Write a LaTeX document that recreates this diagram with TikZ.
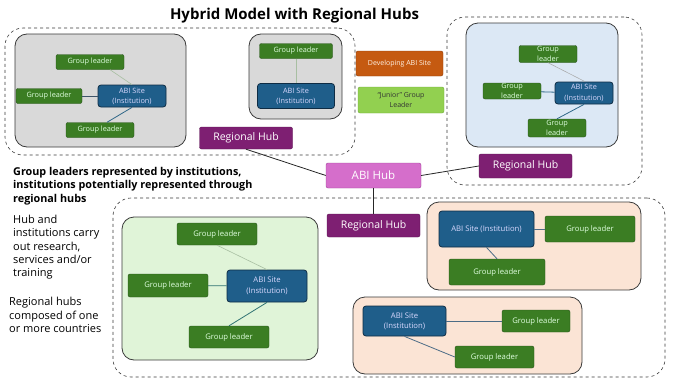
\documentclass[tikz,border=0pt]{standalone}
\usepackage{fontspec}
\setmainfont{Open Sans}
\usepackage{tikz}
\usetikzlibrary{positioning}

\definecolor{glfill}{HTML}{3B7D23}
\definecolor{gldraw}{HTML}{27521A}
\definecolor{abifill}{HTML}{1F5E8A}
\definecolor{abidraw}{HTML}{0E2C44}
\definecolor{rhfill}{HTML}{7E1F72}
\definecolor{rhdraw}{HTML}{5B1452}
\definecolor{hubfill}{HTML}{D56ECB}
\definecolor{hubdraw}{HTML}{A0449A}
\definecolor{devfill}{HTML}{C55A11}
\definecolor{devdraw}{HTML}{8E3E0A}
\definecolor{junfill}{HTML}{92D050}
\definecolor{jundraw}{HTML}{6DAA36}
\definecolor{grayfill}{HTML}{D9D9D9}
\definecolor{bluefill}{HTML}{DCE8F5}
\definecolor{greenfill}{HTML}{E0F4D8}
\definecolor{peachfill}{HTML}{FBE4D5}
\definecolor{boxdraw}{HTML}{3A3A3A}
\definecolor{lightlink}{HTML}{A8BFA2}
\definecolor{darklink}{HTML}{2F6788}
\definecolor{slatelink}{HTML}{3E5468}
\definecolor{peachlink}{HTML}{4C6C86}
\definecolor{teallink}{HTML}{2F7272}

\begin{document}
\begin{tikzpicture}[x=1pt, y=-1pt,
  dbox/.style={draw=boxdraw, dashed, line width=0.6pt, rounded corners=18pt, inner sep=0pt},
  grp/.style={draw=boxdraw, line width=0.8pt, rounded corners=12pt, inner sep=0pt},
  gl/.style={draw=gldraw, fill=glfill, text=white!88!green, rounded corners=2pt, inner sep=0pt, align=center, font=\fontsize{7.3}{7.5}\selectfont},
  abi/.style={draw=abidraw, line width=0.8pt, fill=abifill, text=white!85!blue, rounded corners=3pt, inner sep=0pt, align=center, font=\fontsize{7.3}{10}\selectfont},
  rhub/.style={draw=rhdraw, fill=rhfill, text=white, rounded corners=2pt, inner sep=0pt, minimum width=93pt, font=\fontsize{10.5}{12}\selectfont},
  lk/.style={draw=lightlink, line width=0.6pt},
  ln/.style={draw=darklink, line width=0.8pt},
  hublink/.style={draw=black!85, line width=0.8pt}]
\useasboundingbox (0,0) rectangle (683,383);

\node (title) at (294.5,16) {\fontsize{15}{18}\selectfont\bfseries Hybrid Model with Regional Hubs};

% dashed regions
\node[dbox, minimum width=350pt, minimum height=127pt] (regA) at (180,91.5) {};
\node[dbox, minimum width=195pt, minimum height=168pt] (regB) at (544.5,101) {};
\node[dbox, minimum width=552pt, minimum height=179pt] (regC) at (389,287.5) {};

% institution boxes
\node[grp, fill=grayfill, minimum width=171pt, minimum height=113pt] (boxA) at (100.5,90.5) {};
\node[grp, fill=grayfill, minimum width=93pt, minimum height=85pt] (boxB) at (295.5,76.5) {};
\node[grp, fill=bluefill, minimum width=152pt, minimum height=124pt] (boxC) at (542,85) {};
\node[grp, fill=greenfill, minimum width=196pt, minimum height=143pt] (boxD) at (220,288.5) {};
\node[grp, fill=peachfill, minimum width=214pt, minimum height=88pt] (boxE) at (534,246) {};
\node[grp, fill=peachfill, minimum width=229pt, minimum height=77pt] (boxF) at (467.5,335.5) {};

\node[gl, minimum width=68pt, minimum height=15pt] (glA1) at (90,62) {Group leader};
\node[gl, minimum width=66pt, minimum height=15pt] (glA2) at (49,96) {Group leader};
\node[abi, minimum width=68pt, minimum height=22pt] (siteA) at (132,96) {ABI Site\\(Institution)};
\node[gl, minimum width=68pt, minimum height=15pt] (glA3) at (100,130) {Group leader};

\node[gl, minimum width=73pt, minimum height=15pt] (glB1) at (296,51) {Group leader};
\node[abi, minimum width=77pt, minimum height=25pt] (siteB) at (296,96) {ABI Site\\(Institution)};

\node[gl, minimum width=58pt, minimum height=17pt, font=\fontsize{7.3}{10}\selectfont] (glC1) at (548,54) {Group\\leader};
\node[gl, minimum width=58pt, minimum height=16pt, font=\fontsize{7.3}{10}\selectfont] (glC2) at (512,91) {Group\\leader};
\node[abi, minimum width=58pt, minimum height=22pt, font=\fontsize{7.3}{11}\selectfont] (siteC) at (584,93) {ABI Site\\(Institution)};
\node[gl, minimum width=58pt, minimum height=18pt, font=\fontsize{7.3}{10}\selectfont] (glC3) at (557,128) {Group\\leader};

\node[gl, minimum width=80pt, minimum height=22pt, font=\fontsize{7.7}{9}\selectfont] (glD1) at (217,234) {Group leader};
\node[gl, minimum width=80pt, minimum height=23pt, font=\fontsize{7.7}{9}\selectfont] (glD2) at (168,285.5) {Group leader};
\node[abi, minimum width=80pt, minimum height=32pt, font=\fontsize{7.7}{10.5}\selectfont] (siteD) at (267,286) {ABI Site\\(Institution)};
\node[gl, minimum width=80pt, minimum height=22pt, font=\fontsize{7.7}{9}\selectfont] (glD3) at (229,337) {Group leader};

\node[abi, minimum width=95pt, minimum height=36pt, font=\fontsize{7.7}{9}\selectfont] (siteE) at (486.5,229) {ABI Site (Institution)};
\node[gl, minimum width=90pt, minimum height=26pt, font=\fontsize{7.7}{9}\selectfont] (glE1) at (590,229) {Group leader};
\node[gl, minimum width=96pt, minimum height=26pt, font=\fontsize{7.7}{9}\selectfont] (glE2) at (497,272) {Group leader};

\node[abi, minimum width=83pt, minimum height=30pt, font=\fontsize{7.7}{10}\selectfont] (siteF) at (404.5,321) {ABI Site\\(Institution)};
\node[gl, minimum width=68pt, minimum height=22pt, font=\fontsize{7.7}{9}\selectfont] (glF1) at (536,321) {Group leader};
\node[gl, minimum width=79pt, minimum height=22pt, font=\fontsize{7.7}{9}\selectfont] (glF2) at (494.5,357) {Group leader};

% key
\node[draw=devdraw, fill=devfill, text=white!90!orange, rounded corners=2pt, inner sep=0pt, minimum width=87pt, minimum height=25pt, font=\fontsize{7}{9}\selectfont] (dev) at (399.5,63.5) {Developing ABI Site};
\node[draw=jundraw, fill=junfill, text=black!80, rounded corners=2pt, inner sep=0pt, minimum width=86pt, minimum height=26pt, align=center, font=\fontsize{7}{10}\selectfont] (jun) at (401,100) {``Junior'' Group\\Leader};

% hubs
\node[draw=hubdraw, fill=hubfill, text=white, rounded corners=2pt, inner sep=0pt, minimum width=95pt, minimum height=25pt, font=\fontsize{11.5}{13}\selectfont] (hub) at (373.5,175.5) {ABI Hub};
\node[rhub, minimum height=22pt] (rhA) at (246,138) {Regional Hub};
\node[rhub, minimum height=24pt] (rhB) at (525.5,166) {Regional Hub};
\node[rhub, minimum height=23pt] (rhC) at (373.5,225.5) {Regional Hub};

% links
\draw[lk] ([xshift=20pt]glA1.south) -- (siteA.north);
\draw[draw=slatelink, line width=0.8pt] (glA2) -- (siteA);
\draw[ln] (siteA.south) -- ([xshift=7pt]glA3.north);
\draw[lk] (glB1) -- (siteB);
\draw[draw=black!35, line width=0.5pt] (glC1.south) -- ([xshift=1pt]siteC.north);
\draw[ln] (glC2) -- (siteC);
\draw[ln] (siteC.south) -- (glC3.north);
\draw[lk] (glD1.south) -- (siteD.north);
\draw[ln, draw=teallink] (glD2) -- (siteD);
\draw[ln, draw=teallink] (siteD.south) -- (glD3.north);
\draw[ln, draw=peachlink] (siteE) -- (glE1);
\draw[ln, draw=peachlink] (siteE.south) -- (glE2.north);
\draw[ln, draw=peachlink] (siteF) -- (glF1);
\draw[ln, draw=peachlink] (siteF.south) -- (glF2.west);
\draw[hublink] (rhA.south) -- (hub.west);
\draw[hublink] (hub.east) -- (rhB.west);
\draw[hublink] (hub.south) -- (rhC.north);

% side notes
\node[anchor=north west, inner sep=0pt, align=left, font=\fontsize{10.8}{13.5}\selectfont\bfseries] (noteA) at (13,167) {Group leaders represented by institutions,\\institutions potentially represented through\\regional hubs};
\node[anchor=north west, inner sep=0pt, align=left, font=\fontsize{11}{13.3}\selectfont] (noteB) at (13,215) {Hub and\\institutions carry\\out research,\\services and/or\\training};
\node[anchor=north west, inner sep=0pt, align=left, font=\fontsize{11}{13.5}\selectfont] (noteC) at (9,297) {Regional hubs\\composed of one\\or more countries};
\end{tikzpicture}
\end{document}
